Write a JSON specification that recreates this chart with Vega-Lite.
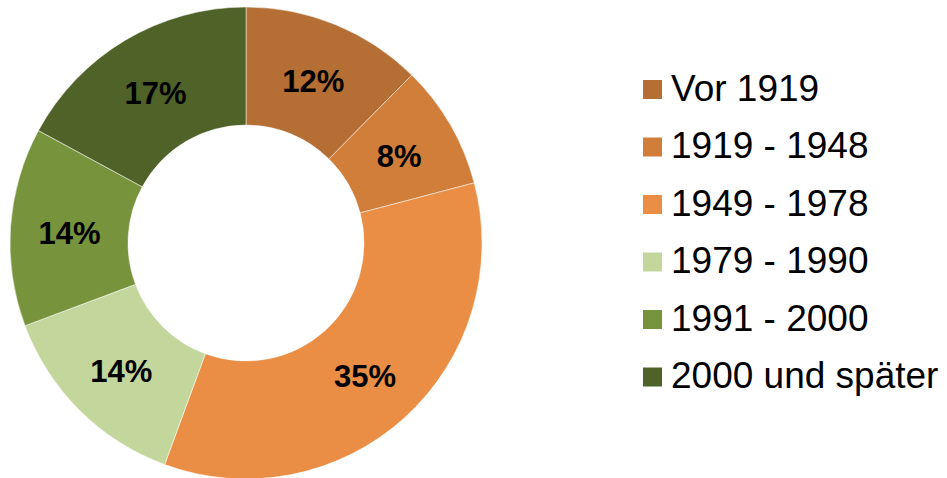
{
  "$schema": "https://vega.github.io/schema/vega-lite/v6.json",
  "width": 492,
  "height": 472,
  "padding": {"top": 6, "left": 0, "right": 0, "bottom": 0},
  "background": "white",
  "data": {
    "values": [
      {"period": "Vor 1919", "share": 12.4, "label": "12%", "idx": 1},
      {"period": "1919 - 1948", "share": 8.5, "label": "8%", "idx": 2},
      {"period": "1949 - 1978", "share": 34.7, "label": "35%", "idx": 3},
      {"period": "1979 - 1990", "share": 13.7, "label": "14%", "idx": 4},
      {"period": "1991 - 2000", "share": 13.6, "label": "14%", "idx": 5},
      {"period": "2000 und später", "share": 17.1, "label": "17%", "idx": 6}
    ]
  },
  "encoding": {
    "theta": {"field": "share", "type": "quantitative", "stack": true},
    "order": {"field": "idx", "type": "quantitative"}
  },
  "layer": [
    {
      "mark": {"type": "arc", "innerRadius": 118, "outerRadius": 236, "stroke": "white", "strokeWidth": 0.5},
      "encoding": {
        "color": {
          "field": "period",
          "type": "nominal",
          "scale": {
            "domain": ["Vor 1919", "1919 - 1948", "1949 - 1978", "1979 - 1990", "1991 - 2000", "2000 und später"],
            "range": ["#B56E33", "#D07E3A", "#EB8E45", "#C3D69B", "#77933C", "#4F6228"]
          },
          "legend": {
            "title": null,
            "orient": "none",
            "legendX": 634,
            "legendY": 64,
            "symbolType": "square",
            "symbolSize": 361,
            "symbolStrokeWidth": 0,
            "labelFont": "Liberation Sans",
            "labelFontSize": 37,
            "labelColor": "black",
            "labelOffset": 0,
            "rowPadding": 19.5,
            "padding": 0,
            "labelLimit": 400
          }
        }
      }
    },
    {
      "mark": {"type": "text", "radius": 177, "dy": 4, "font": "Liberation Sans", "fontWeight": "bold", "fontSize": 31, "color": "black"},
      "encoding": {
        "text": {"field": "label"}
      }
    }
  ],
  "config": {"view": {"stroke": null}}
}
